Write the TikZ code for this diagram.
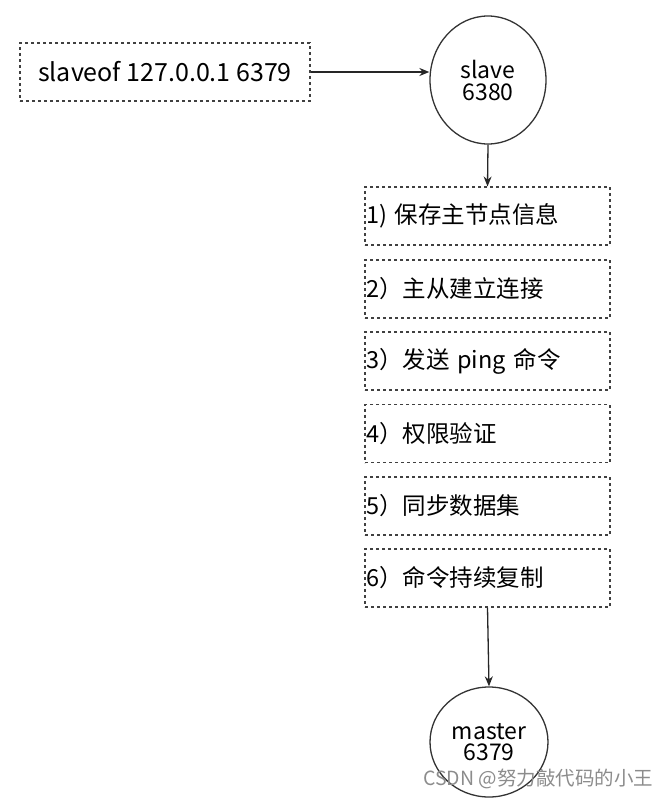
\documentclass[tikz,border=0pt]{standalone}
\usepackage{fontspec}
\setmainfont{Noto Sans CJK SC}
\newfontfamily\cjk{Noto Sans CJK SC}
\usetikzlibrary{arrows.meta,shapes.geometric}
\begin{document}
\begin{tikzpicture}[x=1pt,y=-1pt,
  dbox/.style={draw=black!75,dashed,line width=1.1pt,dash pattern=on 3pt off 3pt,minimum height=58pt,inner sep=0pt},
  stepbox/.style={dbox,minimum width=245pt,text width=243pt,align=left,font=\fontsize{23.5}{28}\selectfont},
  circ/.style={draw=black!80,line width=1.3pt,ellipse,inner sep=0pt,align=center,font=\fontsize{23}{27}\selectfont},
  conn/.style={draw=black!85,line width=1.3pt,-{Stealth[length=10pt,width=8pt]}}]
\useasboundingbox (0,0) rectangle (668,800);
\node[dbox,minimum width=290pt,font=\fontsize{25}{29}\selectfont] (cmd) at (165,72) {slaveof 127.0.0.1 6379};
\node[circ,minimum width=116pt,minimum height=128pt] (slave) at (488,80) {slave\\[-5pt]6380};
\node[stepbox] (s1) at (487.5,216) {1) 保存主节点信息};
\node[stepbox] (s2) at (487.5,289) {2）主从建立连接};
\node[stepbox] (s3) at (487.5,361) {3）发送 ping 命令};
\node[stepbox] (s4) at (487.5,433.5) {4）权限验证};
\node[stepbox] (s5) at (487.5,506) {5）同步数据集};
\node[stepbox] (s6) at (487.5,578) {6）命令持续复制};
\node[circ,minimum width=118pt,minimum height=110pt] (master) at (489,742) {master\\[-6pt]6379};
\draw[conn] (cmd.east) -- (slave.west |- cmd.east);
\draw[conn] (slave.south) -- (s1.north);
\draw[conn] (s6.south) -- (master.north);
\node[anchor=west,text=black!45,font=\fontsize{19.5}{22}\selectfont,inner sep=0pt] (wm) at (423,779) {CSDN @努力敲代码的小王};
\end{tikzpicture}
\end{document}
